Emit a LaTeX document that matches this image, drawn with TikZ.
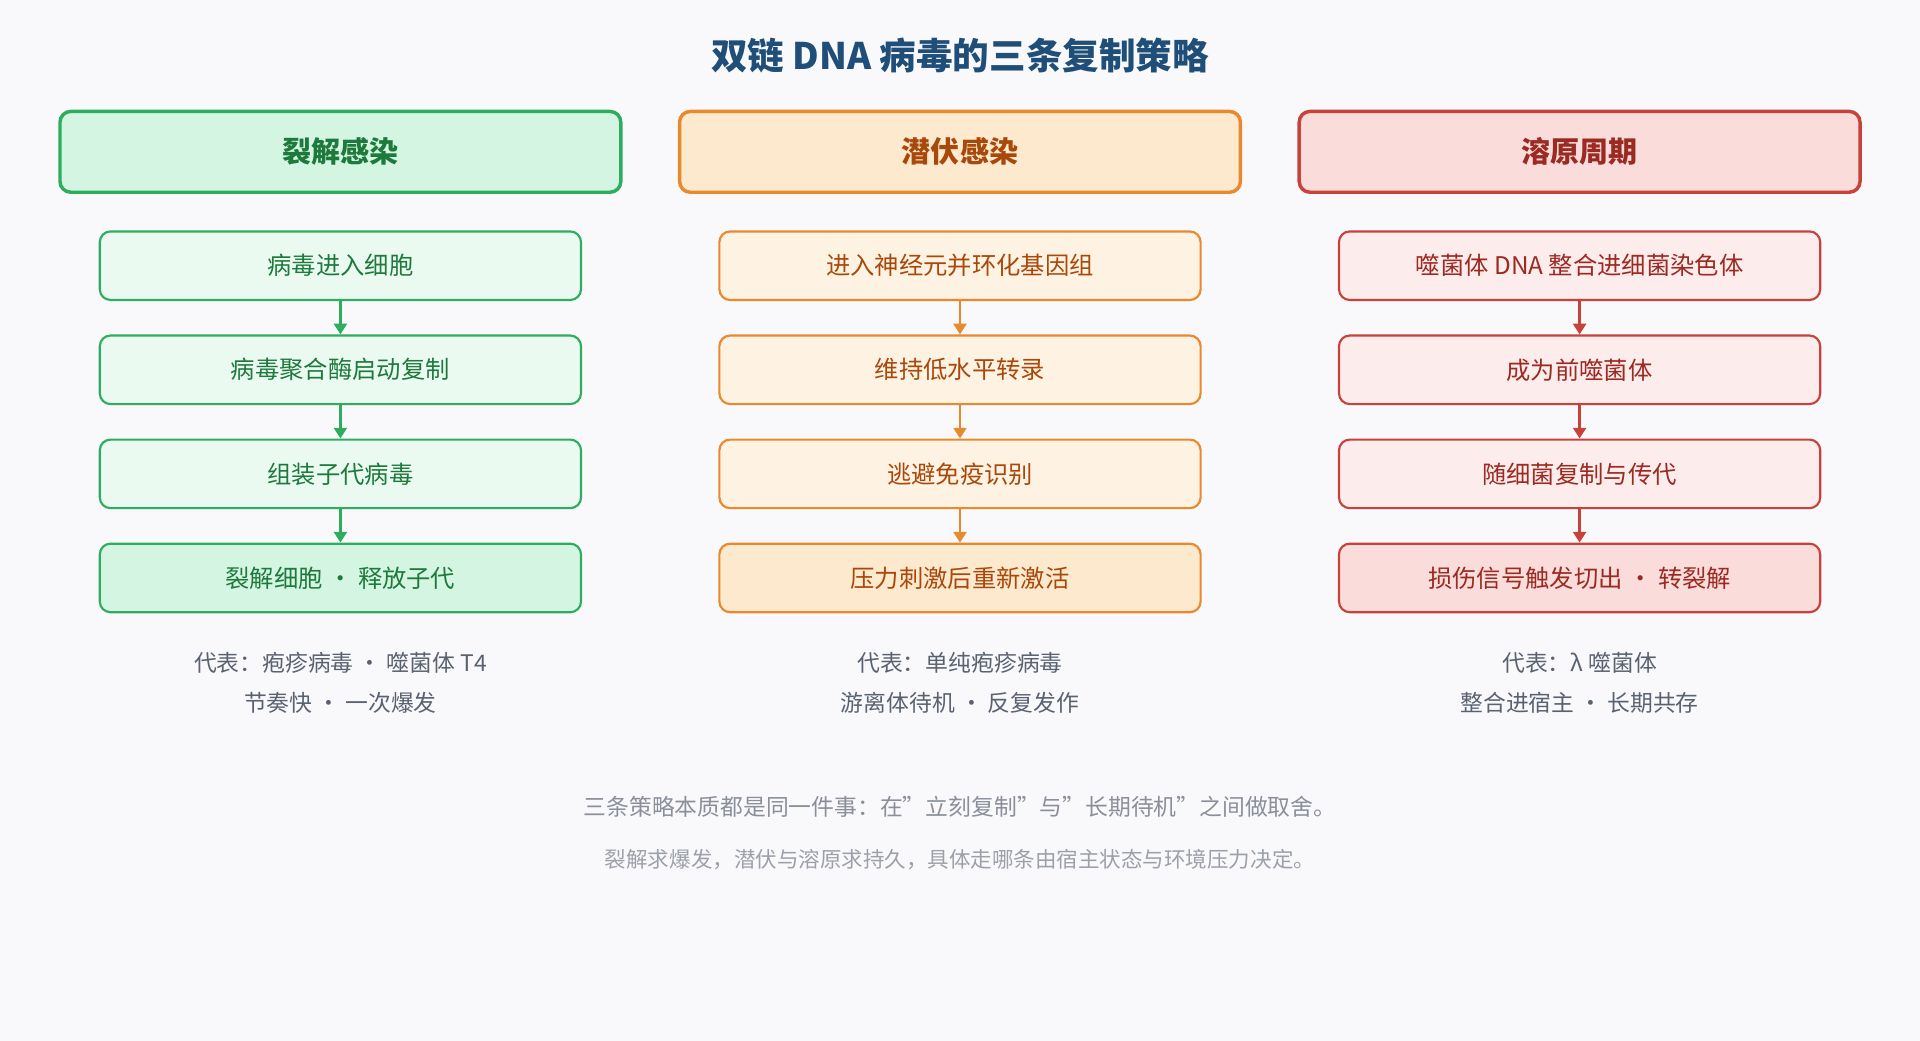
\documentclass[tikz,border=0pt]{standalone}
\usepackage{fontspec}
\setmainfont{Noto Sans CJK SC}
\usetikzlibrary{arrows.meta}

\definecolor{bgc}{HTML}{F9F9FC}
\definecolor{titlec}{HTML}{1F4E79}
\definecolor{gline}{HTML}{2EAD5E}
\definecolor{ghead}{HTML}{D4F5E2}
\definecolor{gstep}{HTML}{EBFAF1}
\definecolor{gtext}{HTML}{1E7A3C}
\definecolor{oline}{HTML}{E8892E}
\definecolor{ohead}{HTML}{FDE9CD}
\definecolor{ostep}{HTML}{FEF3E3}
\definecolor{otext}{HTML}{A8480A}
\definecolor{rline}{HTML}{C7423A}
\definecolor{rhead}{HTML}{FADCDA}
\definecolor{rstep}{HTML}{FDECEC}
\definecolor{rtext}{HTML}{9B2A22}
\definecolor{capc}{HTML}{5A6270}
\definecolor{notec}{HTML}{8A8F99}

\tikzset{
  head/.style={draw, line width=1.6pt, rounded corners=5pt, minimum width=91.6mm,
    minimum height=13.2mm, font=\fontsize{13.5}{16}\selectfont\bfseries},
  stage/.style={draw, line width=1pt, rounded corners=5pt, minimum width=78.6mm,
    minimum height=11.2mm, font=\fontsize{11.3}{14}\selectfont},
  capt/.style={text=capc, font=\fontsize{10.6}{13}\selectfont},
  link/.style={-{Triangle[length=5pt,width=6pt]}, line width=1.3pt},
}

\begin{document}
\begin{tikzpicture}[x=0.2mm, y=-0.2mm]
  \fill[bgc] (0,0) rectangle (1568,850);

  \node[text=titlec, font=\fontsize{17}{20}\selectfont\bfseries] (title) at (784,45) {双链 DNA 病毒的三条复制策略};

  % lytic
  \node[head, draw=gline, fill=ghead, text=gtext] (lh) at (278,124) {裂解感染};
  \node[stage, draw=gline, fill=gstep, text=gtext] (l1) at (278,217) {病毒进入细胞};
  \node[stage, draw=gline, fill=gstep, text=gtext] (l2) at (278,302) {病毒聚合酶启动复制};
  \node[stage, draw=gline, fill=gstep, text=gtext] (l3) at (278,387) {组装子代病毒};
  \node[stage, draw=gline, fill=ghead, text=gtext] (l4) at (278,472) {裂解细胞 · 释放子代};
  \node[capt] (lc1) at (278,541) {代表：疱疹病毒 · 噬菌体 T4};
  \node[capt] (lc2) at (278,574) {节奏快 · 一次爆发};

  % latent
  \node[head, draw=oline, fill=ohead, text=otext] (ph) at (784,124) {潜伏感染};
  \node[stage, draw=oline, fill=ostep, text=otext] (p1) at (784,217) {进入神经元并环化基因组};
  \node[stage, draw=oline, fill=ostep, text=otext] (p2) at (784,302) {维持低水平转录};
  \node[stage, draw=oline, fill=ostep, text=otext] (p3) at (784,387) {逃避免疫识别};
  \node[stage, draw=oline, fill=ohead, text=otext] (p4) at (784,472) {压力刺激后重新激活};
  \node[capt] (pc1) at (784,541) {代表：单纯疱疹病毒};
  \node[capt] (pc2) at (784,574) {游离体待机 · 反复发作};

  % lysogenic
  \node[head, draw=rline, fill=rhead, text=rtext] (yh) at (1290,124) {溶原周期};
  \node[stage, draw=rline, fill=rstep, text=rtext] (y1) at (1290,217) {噬菌体 DNA 整合进细菌染色体};
  \node[stage, draw=rline, fill=rstep, text=rtext] (y2) at (1290,302) {成为前噬菌体};
  \node[stage, draw=rline, fill=rstep, text=rtext] (y3) at (1290,387) {随细菌复制与传代};
  \node[stage, draw=rline, fill=rhead, text=rtext] (y4) at (1290,472) {损伤信号触发切出 · 转裂解};
  \node[capt] (yc1) at (1290,541) {代表：λ 噬菌体};
  \node[capt] (yc2) at (1290,574) {整合进宿主 · 长期共存};

  \foreach \a/\b in {1/2, 2/3, 3/4} {
    \draw[link, gline] (l\a) -- (l\b);
    \draw[link, oline] (p\a) -- (p\b);
    \draw[link, rline] (y\a) -- (y\b);
  }

  \node[text=notec, font=\fontsize{10.6}{13}\selectfont] (note1) at (784,659) {三条策略本质都是同一件事：在"立刻复制"与"长期待机"之间做取舍。};
  \node[text=notec!85, font=\fontsize{10}{12}\selectfont] (note2) at (784,702) {裂解求爆发，潜伏与溶原求持久，具体走哪条由宿主状态与环境压力决定。};
\end{tikzpicture}
\end{document}
